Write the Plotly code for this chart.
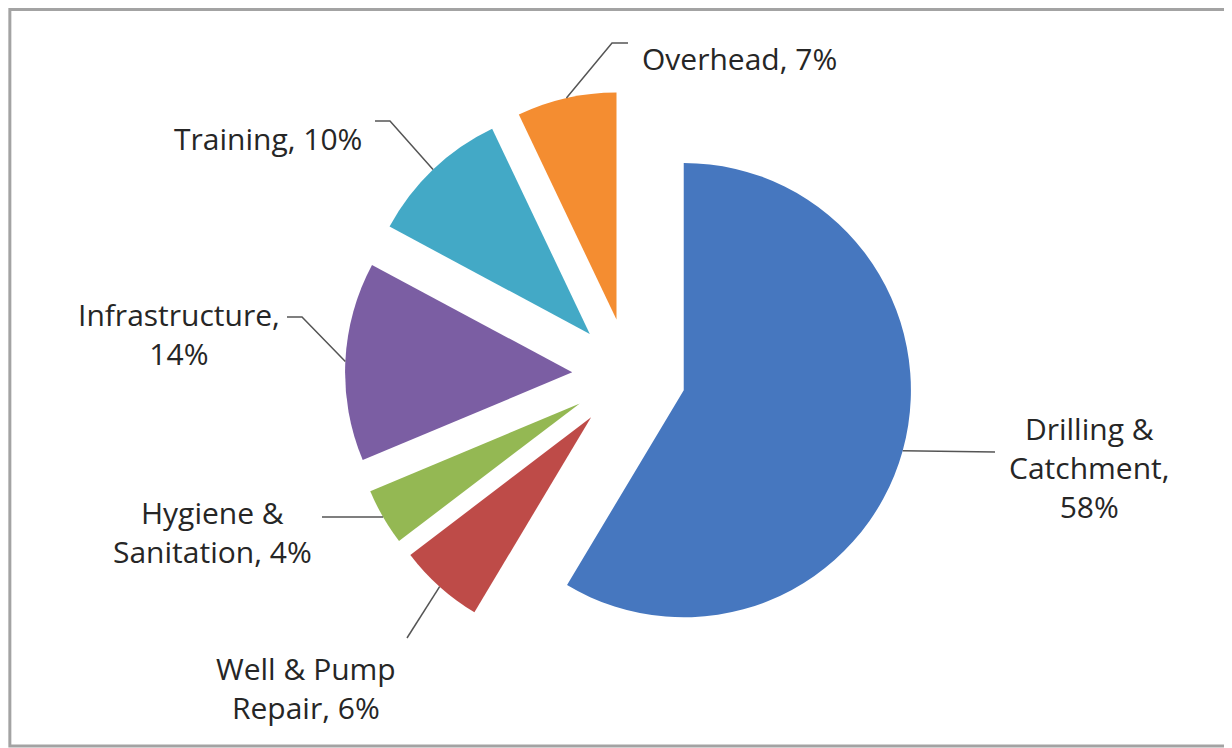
import math
import plotly.graph_objects as go

# ---- data ----
categories = ["Drilling & Catchment", "Well & Pump Repair", "Hygiene & Sanitation",
              "Infrastructure", "Training", "Overhead"]
values = [58, 6, 4, 14, 10, 7]
label_text = ["Drilling &<br>Catchment,<br>58%", "Well & Pump<br>Repair, 6%",
              "Hygiene &<br>Sanitation, 4%", "Infrastructure,<br>14%",
              "Training, 10%", "Overhead, 7%"]

# ---- style / layout ----
colors = ["#4677BF", "#BE4B48", "#94B853", "#7B5EA3", "#43A9C6", "#F48D31"]
W, H = 1232, 748
OFF = 8  # page offset of the figure inside the browser window
dom_x = [0.2735, 0.7346]
dom_y = [0.1297, 0.889]
PULL = 0.25
FONT = dict(family="Open Sans, sans-serif", size=30, color="#262626")

# label placement (window pixels): text anchor point, anchors, leader elbow/end
label_layout = [
    dict(x=1089, y=467, xa="center", elbow=(995, 452), end=None),
    dict(x=306, y=688, xa="center", elbow=(407, 638), end=None),
    dict(x=212, y=532, xa="center", elbow=(322, 517), end=None),
    dict(x=179, y=334, xa="center", elbow=(302, 317), end=(287, 317)),
    dict(x=364, y=138, xa="right", elbow=(390, 121), end=(375, 121)),
    dict(x=640, y=58, xa="left", elbow=(612, 43), end=(628, 43)),
]


def px_to_paper(px, py):
    return (px - OFF) / W, 1 - (py - OFF) / H


fig = go.Figure(go.Pie(
    labels=categories,
    values=values,
    textinfo="none",
    sort=False,
    direction="clockwise",
    rotation=0,
    pull=[PULL] * len(values),
    marker=dict(colors=colors, line=dict(width=0)),
    domain=dict(x=dom_x, y=dom_y),
    showlegend=False,
    hoverinfo="label+value",
))

# pie geometry (same rules plotly uses for a pulled pie inside its domain)
cx = (dom_x[0] + dom_x[1]) / 2 * W
cy = (1 - (dom_y[0] + dom_y[1]) / 2) * H
r = min((dom_x[1] - dom_x[0]) * W, (dom_y[1] - dom_y[0]) * H) / 2 / (1 + PULL)
total = sum(values)

annotations = []
shapes = []
cum = 0
for val, txt, lay in zip(values, label_text, label_layout):
    mid = (cum + val / 2) / total * 2 * math.pi
    cum += val
    tx = cx + (1 + PULL) * r * math.sin(mid)
    ty = cy - (1 + PULL) * r * math.cos(mid)
    tip = (tx / W, 1 - ty / H)
    pts = [tip, px_to_paper(*lay["elbow"])]
    if lay["end"] is not None:
        pts.append(px_to_paper(*lay["end"]))
    path = "M " + " L ".join(f"{p[0]:.5f},{p[1]:.5f}" for p in pts)
    shapes.append(dict(type="path", xref="paper", yref="paper", path=path,
                       line=dict(color="#555555", width=1.5)))
    ax, ay = px_to_paper(lay["x"], lay["y"])
    annotations.append(dict(x=ax, y=ay, xref="paper", yref="paper", text=txt,
                            showarrow=False, xanchor=lay["xa"], yanchor="middle",
                            align="center", font=FONT))

# chart frame
shapes.append(dict(type="rect", xref="paper", yref="paper",
                   x0=0.0015, y0=1 - (746 - OFF) / H, x1=1.01, y1=0.998,
                   line=dict(color="#a3a3a3", width=3)))

fig.update_layout(
    width=W, height=H,
    margin=dict(l=0, r=0, t=0, b=0, pad=0, autoexpand=False),
    paper_bgcolor="white",
    annotations=annotations,
    shapes=shapes,
)

fig.write_html("out.html")
